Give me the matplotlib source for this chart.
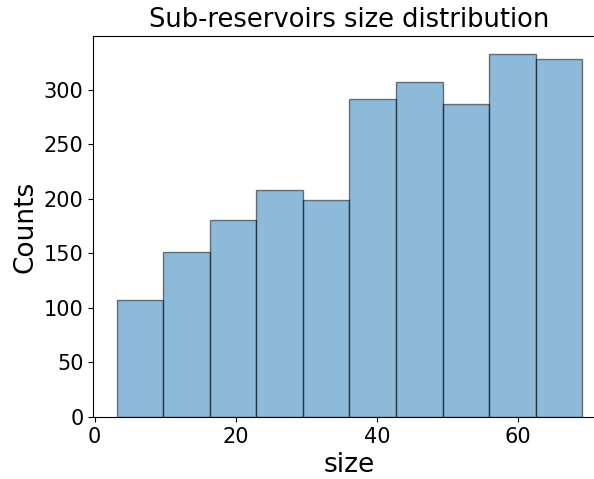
import numpy as np
import matplotlib
matplotlib.use("Agg")
import matplotlib.pyplot as plt
from matplotlib.ticker import MultipleLocator

# histogram of sub-reservoir sizes (already binned)
bin_edges = [3.1, 9.7, 16.3, 22.9, 29.5, 36.1, 42.7, 49.3, 55.9, 62.5, 69.1]
counts = [107, 151, 181, 208, 199, 292, 307, 287, 333, 328]

fig = plt.figure(figsize=(5.94, 4.79), dpi=100)
ax = fig.add_axes([0.157, 0.1294, 0.8625, 0.796])

ax.hist(bin_edges[:-1], bins=bin_edges, weights=counts, alpha=0.5, edgecolor='black')

ax.set_title("Sub-reservoirs size distribution", fontsize=18.5)
ax.set_xlabel("size", fontsize=19)
ax.set_ylabel("Counts", fontsize=19)
ax.xaxis.set_major_locator(MultipleLocator(20))
ax.tick_params(labelsize=15)

fig.savefig("out.png", dpi=100)
